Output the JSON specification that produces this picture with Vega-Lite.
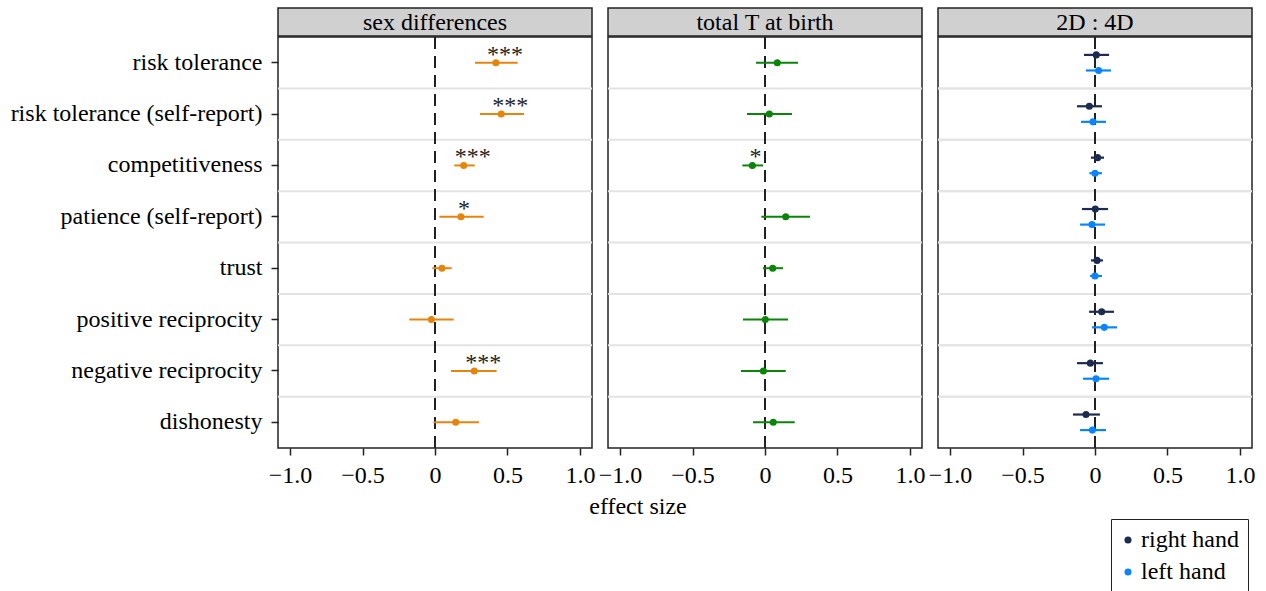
{
  "$schema": "https://vega.github.io/schema/vega-lite/v6.json",
  "background": "white",
  "padding": {"left": 9, "top": 7, "right": 0, "bottom": 0},
  "datasets": {
    "fx": [
      {"panel": "sex differences", "outcome": "risk tolerance", "hand": "", "est": 0.42, "lo": 0.276, "hi": 0.57, "sig": "***"},
      {"panel": "sex differences", "outcome": "risk tolerance (self-report)", "hand": "", "est": 0.457, "lo": 0.31, "hi": 0.614, "sig": "***"},
      {"panel": "sex differences", "outcome": "competitiveness", "hand": "", "est": 0.198, "lo": 0.133, "hi": 0.274, "sig": "***"},
      {"panel": "sex differences", "outcome": "patience (self-report)", "hand": "", "est": 0.179, "lo": 0.03, "hi": 0.336, "sig": "*"},
      {"panel": "sex differences", "outcome": "trust", "hand": "", "est": 0.048, "lo": -0.018, "hi": 0.115, "sig": ""},
      {"panel": "sex differences", "outcome": "positive reciprocity", "hand": "", "est": -0.025, "lo": -0.177, "hi": 0.129, "sig": ""},
      {"panel": "sex differences", "outcome": "negative reciprocity", "hand": "", "est": 0.271, "lo": 0.11, "hi": 0.425, "sig": "***"},
      {"panel": "sex differences", "outcome": "dishonesty", "hand": "", "est": 0.143, "lo": -0.011, "hi": 0.303, "sig": ""},
      {"panel": "total T at birth", "outcome": "risk tolerance", "hand": "", "est": 0.085, "lo": -0.062, "hi": 0.228, "sig": ""},
      {"panel": "total T at birth", "outcome": "risk tolerance (self-report)", "hand": "", "est": 0.03, "lo": -0.124, "hi": 0.186, "sig": ""},
      {"panel": "total T at birth", "outcome": "competitiveness", "hand": "", "est": -0.087, "lo": -0.156, "hi": -0.014, "sig": "*"},
      {"panel": "total T at birth", "outcome": "patience (self-report)", "hand": "", "est": 0.143, "lo": -0.025, "hi": 0.31, "sig": ""},
      {"panel": "total T at birth", "outcome": "trust", "hand": "", "est": 0.053, "lo": -0.014, "hi": 0.124, "sig": ""},
      {"panel": "total T at birth", "outcome": "positive reciprocity", "hand": "", "est": 0.002, "lo": -0.152, "hi": 0.159, "sig": ""},
      {"panel": "total T at birth", "outcome": "negative reciprocity", "hand": "", "est": -0.011, "lo": -0.166, "hi": 0.143, "sig": ""},
      {"panel": "total T at birth", "outcome": "dishonesty", "hand": "", "est": 0.057, "lo": -0.083, "hi": 0.205, "sig": ""},
      {"panel": "2D : 4D", "outcome": "risk tolerance", "hand": "right hand", "est": 0.009, "lo": -0.076, "hi": 0.097, "sig": ""},
      {"panel": "2D : 4D", "outcome": "risk tolerance", "hand": "left hand", "est": 0.025, "lo": -0.062, "hi": 0.11, "sig": ""},
      {"panel": "2D : 4D", "outcome": "risk tolerance (self-report)", "hand": "right hand", "est": -0.039, "lo": -0.124, "hi": 0.048, "sig": ""},
      {"panel": "2D : 4D", "outcome": "risk tolerance (self-report)", "hand": "left hand", "est": -0.014, "lo": -0.097, "hi": 0.076, "sig": ""},
      {"panel": "2D : 4D", "outcome": "competitiveness", "hand": "right hand", "est": 0.018, "lo": -0.028, "hi": 0.062, "sig": ""},
      {"panel": "2D : 4D", "outcome": "competitiveness", "hand": "left hand", "est": 0.0, "lo": -0.039, "hi": 0.048, "sig": ""},
      {"panel": "2D : 4D", "outcome": "patience (self-report)", "hand": "right hand", "est": 0.002, "lo": -0.09, "hi": 0.09, "sig": ""},
      {"panel": "2D : 4D", "outcome": "patience (self-report)", "hand": "left hand", "est": -0.021, "lo": -0.103, "hi": 0.069, "sig": ""},
      {"panel": "2D : 4D", "outcome": "trust", "hand": "right hand", "est": 0.014, "lo": -0.028, "hi": 0.055, "sig": ""},
      {"panel": "2D : 4D", "outcome": "trust", "hand": "left hand", "est": 0.0, "lo": -0.034, "hi": 0.048, "sig": ""},
      {"panel": "2D : 4D", "outcome": "positive reciprocity", "hand": "right hand", "est": 0.046, "lo": -0.041, "hi": 0.131, "sig": ""},
      {"panel": "2D : 4D", "outcome": "positive reciprocity", "hand": "left hand", "est": 0.064, "lo": -0.021, "hi": 0.152, "sig": ""},
      {"panel": "2D : 4D", "outcome": "negative reciprocity", "hand": "right hand", "est": -0.032, "lo": -0.124, "hi": 0.055, "sig": ""},
      {"panel": "2D : 4D", "outcome": "negative reciprocity", "hand": "left hand", "est": 0.007, "lo": -0.083, "hi": 0.097, "sig": ""},
      {"panel": "2D : 4D", "outcome": "dishonesty", "hand": "right hand", "est": -0.062, "lo": -0.152, "hi": 0.034, "sig": ""},
      {"panel": "2D : 4D", "outcome": "dishonesty", "hand": "left hand", "est": -0.018, "lo": -0.103, "hi": 0.076, "sig": ""}
    ],
    "heads": [
      {"label": "sex differences"},
      {"label": "total T at birth"},
      {"label": "2D : 4D"},
      {"label": "effect size"}
    ]
  },
  "spacing": 4,
  "vconcat": [
    {
      "spacing": 1,
      "hconcat": [
        {
          "spacing": -2,
          "vconcat": [
            {
              "width": 314, "height": 28,
              "view": {"fill": "#d0d0d0", "stroke": "#222", "strokeWidth": 1.5},
              "data": {"name": "heads"},
              "transform": [{"filter": "datum.label == 'sex differences'"}],
              "mark": {"type": "text", "font": "Liberation Serif", "fontSize": 24, "color": "black", "baseline": "middle", "dy": 1},
              "encoding": {"text": {"field": "label"}}
            },
            {
              "width": 314, "height": 411,
              "view": {"stroke": "#222", "strokeWidth": 1.5},
              "data": {"name": "fx"},
              "transform": [{"filter": "datum.panel == 'sex differences'"}],
              "encoding": {
                "y": {"field": "outcome", "type": "nominal",
                  "scale": {"type": "band", "paddingInner": 0, "paddingOuter": 0, "domain": ["risk tolerance", "risk tolerance (self-report)", "competitiveness", "patience (self-report)", "trust", "positive reciprocity", "negative reciprocity", "dishonesty"]},
                  "axis": {"title": null, "domain": false, "labelFont": "Liberation Serif", "labelFontSize": 24, "labelColor": "black", "labelLimit": 0, "tickColor": "#222", "tickSize": 7, "tickWidth": 1.5, "labelPadding": 9}
                }
              },
              "layer": [
                {
                  "transform": [{"filter": "datum.outcome != 'risk tolerance'"}],
                  "mark": {"type": "rule", "color": "#e3e3e3", "strokeWidth": 2},
                  "encoding": {"y": {"field": "outcome", "type": "nominal", "bandPosition": 0}}
                },
                {
                  "mark": {"type": "rule", "color": "#222", "strokeWidth": 1.5, "strokeDash": [12, 7]},
                  "encoding": {"x": {"datum": 0}, "y": null}
                },
                {
                  "mark": {"type": "rule", "color": "#e6850e", "strokeWidth": 2},
                  "encoding": {
                    "x": {"field": "lo", "type": "quantitative", "scale": {"domain": [-1.083, 1.083], "nice": false, "zero": false},
                      "axis": {"title": null, "values": [-1, -0.5, 0, 0.5, 1], "labelExpr": "datum.value == 0 ? '0' : format(datum.value, '.1f')", "grid": false, "domain": false, "labelFont": "Liberation Serif", "labelFontSize": 24, "labelColor": "black", "tickColor": "#222", "tickSize": 7, "tickWidth": 1.5, "labelPadding": 8, "labelFlush": false}},
                    "x2": {"field": "hi"}
                  }
                },
                {
                  "mark": {"type": "point", "filled": true, "size": 50, "opacity": 1, "color": "#e6850e"},
                  "encoding": {"x": {"field": "est", "type": "quantitative"}}
                },
                {
                  "transform": [{"filter": "datum.sig == '***'"}],
                  "mark": {"type": "text", "font": "Liberation Serif", "fontSize": 24, "color": "#222", "align": "center", "baseline": "alphabetic", "dx": 9, "dy": -1},
                  "encoding": {"x": {"field": "est", "type": "quantitative"}, "text": {"field": "sig"}}
                },
                {
                  "transform": [{"filter": "datum.sig == '*'"}],
                  "mark": {"type": "text", "font": "Liberation Serif", "fontSize": 24, "color": "#222", "align": "center", "baseline": "alphabetic", "dx": 3, "dy": -1},
                  "encoding": {"x": {"field": "est", "type": "quantitative"}, "text": {"field": "sig"}}
                }
              ]
            }
          ]
        },
        {
          "spacing": -2,
          "vconcat": [
            {
              "width": 314, "height": 28,
              "view": {"fill": "#d0d0d0", "stroke": "#222", "strokeWidth": 1.5},
              "data": {"name": "heads"},
              "transform": [{"filter": "datum.label == 'total T at birth'"}],
              "mark": {"type": "text", "font": "Liberation Serif", "fontSize": 24, "color": "black", "baseline": "middle", "dy": 1},
              "encoding": {"text": {"field": "label"}}
            },
            {
              "width": 314, "height": 411,
              "view": {"stroke": "#222", "strokeWidth": 1.5},
              "data": {"name": "fx"},
              "transform": [{"filter": "datum.panel == 'total T at birth'"}],
              "encoding": {
                "y": {"field": "outcome", "type": "nominal",
                  "scale": {"type": "band", "paddingInner": 0, "paddingOuter": 0, "domain": ["risk tolerance", "risk tolerance (self-report)", "competitiveness", "patience (self-report)", "trust", "positive reciprocity", "negative reciprocity", "dishonesty"]},
                  "axis": null
                }
              },
              "layer": [
                {
                  "transform": [{"filter": "datum.outcome != 'risk tolerance'"}],
                  "mark": {"type": "rule", "color": "#e3e3e3", "strokeWidth": 2},
                  "encoding": {"y": {"field": "outcome", "type": "nominal", "bandPosition": 0}}
                },
                {
                  "mark": {"type": "rule", "color": "#222", "strokeWidth": 1.5, "strokeDash": [12, 7]},
                  "encoding": {"x": {"datum": 0}, "y": null}
                },
                {
                  "mark": {"type": "rule", "color": "#0a850a", "strokeWidth": 2},
                  "encoding": {
                    "x": {"field": "lo", "type": "quantitative", "scale": {"domain": [-1.083, 1.083], "nice": false, "zero": false},
                      "axis": {"title": null, "values": [-1, -0.5, 0, 0.5, 1], "labelExpr": "datum.value == 0 ? '0' : format(datum.value, '.1f')", "grid": false, "domain": false, "labelFont": "Liberation Serif", "labelFontSize": 24, "labelColor": "black", "tickColor": "#222", "tickSize": 7, "tickWidth": 1.5, "labelPadding": 8, "labelFlush": false}},
                    "x2": {"field": "hi"}
                  }
                },
                {
                  "mark": {"type": "point", "filled": true, "size": 50, "opacity": 1, "color": "#0a850a"},
                  "encoding": {"x": {"field": "est", "type": "quantitative"}}
                },
                {
                  "transform": [{"filter": "datum.sig == '*'"}],
                  "mark": {"type": "text", "font": "Liberation Serif", "fontSize": 24, "color": "#222", "align": "center", "baseline": "alphabetic", "dx": 3, "dy": -1},
                  "encoding": {"x": {"field": "est", "type": "quantitative"}, "text": {"field": "sig"}}
                }
              ]
            }
          ]
        },
        {
          "spacing": -2,
          "vconcat": [
            {
              "width": 314, "height": 28,
              "view": {"fill": "#d0d0d0", "stroke": "#222", "strokeWidth": 1.5},
              "data": {"name": "heads"},
              "transform": [{"filter": "datum.label == '2D : 4D'"}],
              "mark": {"type": "text", "font": "Liberation Serif", "fontSize": 24, "color": "black", "baseline": "middle", "dy": 1},
              "encoding": {"text": {"field": "label"}}
            },
            {
              "width": 314, "height": 411,
              "view": {"stroke": "#222", "strokeWidth": 1.5},
              "data": {"name": "fx"},
              "transform": [{"filter": "datum.panel == '2D : 4D'"}],
              "encoding": {
                "y": {"field": "outcome", "type": "nominal",
                  "scale": {"type": "band", "paddingInner": 0, "paddingOuter": 0, "domain": ["risk tolerance", "risk tolerance (self-report)", "competitiveness", "patience (self-report)", "trust", "positive reciprocity", "negative reciprocity", "dishonesty"]},
                  "axis": null
                }
              },
              "layer": [
                {
                  "transform": [{"filter": "datum.outcome != 'risk tolerance'"}],
                  "mark": {"type": "rule", "color": "#e3e3e3", "strokeWidth": 2},
                  "encoding": {"y": {"field": "outcome", "type": "nominal", "bandPosition": 0}}
                },
                {
                  "mark": {"type": "rule", "color": "#222", "strokeWidth": 1.5, "strokeDash": [12, 7]},
                  "encoding": {"x": {"datum": 0}, "y": null}
                },
                {
                  "mark": {"type": "rule", "strokeWidth": 2.2},
                  "encoding": {
                    "x": {"field": "lo", "type": "quantitative", "scale": {"domain": [-1.083, 1.083], "nice": false, "zero": false},
                      "axis": {"title": null, "values": [-1, -0.5, 0, 0.5, 1], "labelExpr": "datum.value == 0 ? '0' : format(datum.value, '.1f')", "grid": false, "domain": false, "labelFont": "Liberation Serif", "labelFontSize": 24, "labelColor": "black", "tickColor": "#222", "tickSize": 7, "tickWidth": 1.5, "labelPadding": 8, "labelFlush": false}},
                    "x2": {"field": "hi"},
                    "yOffset": {"field": "hand", "type": "nominal", "scale": {"domain": ["right hand", "left hand"], "paddingInner": 0, "paddingOuter": 0.65}},
                    "color": {"field": "hand", "type": "nominal", "scale": {"domain": ["right hand", "left hand"], "range": ["#1c2b50", "#0a85ff"]},
                      "legend": {"title": null, "orient": "none", "legendX": 833, "legendY": 511, "direction": "vertical", "strokeColor": "#222", "fillColor": "white", "padding": 9, "labelFont": "Liberation Serif", "labelFontSize": 24, "labelColor": "black", "symbolType": "circle", "symbolSize": 50, "symbolStrokeWidth": 0, "rowPadding": 8, "labelOffset": 1, "symbolOffset": -4}}
                  }
                },
                {
                  "mark": {"type": "point", "filled": true, "size": 50, "opacity": 1},
                  "encoding": {
                    "x": {"field": "est", "type": "quantitative"},
                    "yOffset": {"field": "hand", "type": "nominal"},
                    "color": {"field": "hand", "type": "nominal",
                      "legend": {"title": null, "orient": "none", "legendX": 833, "legendY": 511, "direction": "vertical", "strokeColor": "#222", "fillColor": "white", "padding": 9, "labelFont": "Liberation Serif", "labelFontSize": 24, "labelColor": "black", "symbolType": "circle", "symbolSize": 50, "symbolStrokeWidth": 0, "rowPadding": 8, "labelOffset": 1, "symbolOffset": -4}
                    }
                  }
                }
              ]
            }
          ]
        }
      ]
    },
    {
      "width": 720, "height": 30,
      "data": {"name": "heads"},
      "transform": [{"filter": "datum.label == 'effect size'"}],
      "mark": {"type": "text", "font": "Liberation Serif", "fontSize": 24, "color": "black", "baseline": "middle"},
      "encoding": {"text": {"field": "label"}}
    }
  ]
}
